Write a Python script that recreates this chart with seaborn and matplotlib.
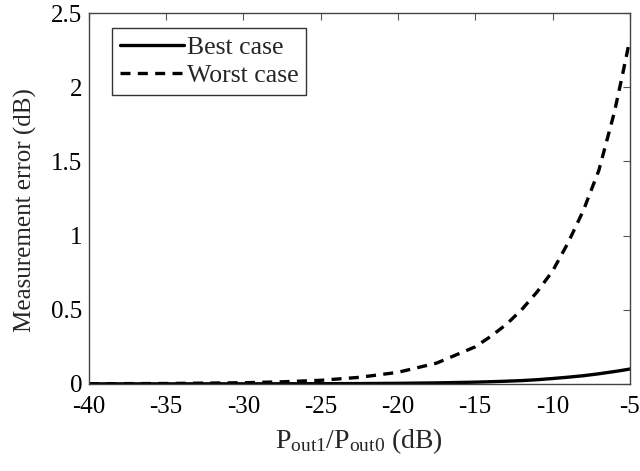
import numpy as np
import pandas as pd
import matplotlib
matplotlib.use("Agg")
import matplotlib.pyplot as plt
import seaborn as sns

# Data
x_db = [-40, -35, -30, -27.5, -25, -22.5, -20, -17.5, -15, -14, -13, -12, -11,
        -10, -9, -8, -7, -6, -5.5, -5]
best_case = [0.0001, 0.0002, 0.0004, 0.0007, 0.0012, 0.002, 0.0037, 0.0065,
             0.0115, 0.0145, 0.018, 0.022, 0.028, 0.036, 0.045, 0.055, 0.068,
             0.083, 0.091, 0.10]
worst_case = [0.0008, 0.0024, 0.0076, 0.014, 0.024, 0.044, 0.078, 0.14, 0.25,
              0.32, 0.40, 0.50, 0.62, 0.76, 0.95, 1.17, 1.44, 1.83, 2.07, 2.32]
series_names = ["Best case", "Worst case"]
x_ticks = [-40, -35, -30, -25, -20, -15, -10, -5]
y_ticks = [0, 0.5, 1, 1.5, 2, 2.5]
y_tick_labels = ["0", "0.5", "1", "1.5", "2", "2.5"]

df = pd.DataFrame({
    "x": x_db * 2,
    "y": best_case + worst_case,
    "case": [series_names[0]] * len(x_db) + [series_names[1]] * len(x_db),
})

sns.set_theme(style="white")
plt.rcParams["font.family"] = ["Liberation Serif", "DejaVu Serif"]
plt.rcParams["mathtext.fontset"] = "custom"
plt.rcParams["mathtext.rm"] = "Liberation Serif"
plt.rcParams["mathtext.it"] = "Liberation Serif:italic"
plt.rcParams["axes.unicode_minus"] = False

fig = plt.figure(figsize=(6.4, 4.71), dpi=100)
ax = fig.add_axes([0.139, 0.185, 0.845, 0.787])

sns.lineplot(data=df, x="x", y="y", style="case", hue="case",
             palette=["black", "black"],
             dashes={"Best case": "", "Worst case": (3.0, 2.2)},
             linewidth=2.4, ax=ax, legend=True)

ax.set_xlim(-40, -5)
ax.set_ylim(0, 2.5)
ax.set_xticks(x_ticks)
ax.set_xticklabels([str(t) for t in x_ticks])
ax.set_yticks(y_ticks)
ax.set_yticklabels(y_tick_labels)

for s in ax.spines.values():
    s.set_visible(True)
    s.set_color("#444444")
    s.set_linewidth(1.0)

ax.tick_params(axis="both", which="both", direction="in", length=5,
               width=0.8, color="#555555", labelsize=18, top=True, right=True,
               labelcolor="black")
ax.tick_params(axis="x", pad=9)
ax.tick_params(axis="y", pad=5)

ax.set_xlabel(r"P$_{\mathrm{out1}}$/P$_{\mathrm{out0}}$ (dB)", fontsize=20,
              labelpad=6)
ax.set_ylabel("Measurement error (dB)", fontsize=18)
ax.yaxis.set_label_coords(-0.097, 0.47)

leg = ax.legend(loc="upper left", bbox_to_anchor=(0.043, 0.96), fontsize=18.5,
                frameon=True, fancybox=False, edgecolor="black",
                handlelength=2.5, handletextpad=0.1, borderpad=0.3,
                labelspacing=0.2, borderaxespad=0)
leg.get_frame().set_linewidth(1.0)
leg.set_title(None)

fig.savefig("out.png", dpi=100)
